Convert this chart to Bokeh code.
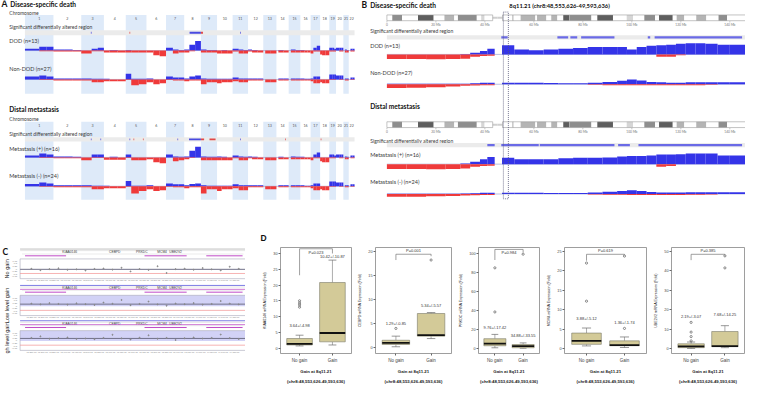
import numpy as np
from bokeh.plotting import figure
from bokeh.layouts import row, column
from bokeh.models import Range1d, Title, FixedTicker
from bokeh.core.properties import value
from bokeh.embed import file_html
from bokeh.resources import INLINE

SANS = "Lato"
ARIAL = "Liberation Sans"
GAIN_COL = "#3434e8"
LOSS_COL = "#ef3a3a"
BAND_COL = "#deeaf9"
SIG_BG = "#ebebeb"
TXT = "#3a3a3a"

# ================= Panel A data (genome-wide, 3 segments per chromosome: p, proximal q, distal q) =================
chrom_names = [str(i) for i in range(1, 23)]
chrom_len_mb = [249, 243, 198, 191, 181, 171, 159, 146, 141, 136, 135, 133, 115, 107, 102, 90, 83, 80, 59, 64, 47, 51]
centromere_mb = [125, 93, 91, 50, 48, 60, 60, 45, 49, 40, 53, 35, 17, 17, 19, 36, 24, 17, 26, 28, 13, 15]

# frequency of gain / loss (% of cases)
dod_gain = [10, 20, 20, 5, 5, 3, 0, 10, 15, 0, 3, 0, 3, 0, 0, 0, 0, 0, 15, 5, 3, 5, 30, 50, 5, 3, 3, 0, 3, 0, 10, 5, 3,
            5, 3, 0, 0, 0, 0, 0, 3, 0, 0, 5, 3, 3, 0, 0, 0, 15, 25, 0, 0, 0, 15, 15, 10, 15, 15, 15, 0, 5, 3, 0, 10, 10]
dod_loss = [0, 3, 3, 5, 5, 5, 15, 3, 3, 10, 10, 10, 10, 10, 10, 10, 25, 30, 0, 15, 10, 10, 3, 0, 10, 10, 10, 15, 15, 15, 5, 15, 15,
            5, 10, 10, 0, 15, 15, 0, 10, 10, 0, 10, 10, 10, 10, 10, 15, 5, 5, 20, 25, 25, 5, 5, 5, 0, 5, 5, 0, 10, 10, 0, 5, 5]
nondod_gain = [15, 20, 15, 5, 5, 5, 5, 3, 3, 3, 0, 0, 30, 3, 3, 5, 0, 0, 15, 10, 10, 5, 15, 20, 5, 3, 3, 3, 3, 3, 10, 5, 5,
               5, 5, 5, 0, 0, 0, 0, 5, 5, 0, 5, 5, 5, 3, 3, 5, 15, 15, 0, 0, 0, 25, 25, 25, 20, 20, 20, 0, 5, 5, 0, 10, 10]
nondod_loss = [0, 3, 3, 5, 5, 5, 5, 15, 15, 10, 10, 10, 3, 30, 25, 15, 25, 20, 3, 5, 5, 10, 5, 5, 25, 15, 15, 20, 15, 15, 10, 15, 15,
               5, 5, 5, 0, 15, 15, 0, 5, 5, 0, 5, 5, 5, 5, 5, 10, 20, 20, 15, 20, 20, 3, 3, 3, 0, 3, 3, 0, 5, 5, 0, 3, 3]
metp_gain = [10, 20, 15, 5, 5, 3, 0, 15, 15, 0, 3, 0, 15, 0, 0, 0, 0, 0, 15, 5, 3, 5, 35, 55, 5, 3, 3, 5, 3, 0, 10, 5, 3,
             5, 3, 0, 0, 0, 0, 0, 3, 0, 0, 5, 3, 3, 0, 0, 0, 15, 25, 0, 0, 0, 15, 15, 10, 15, 15, 15, 0, 5, 3, 0, 10, 10]
metp_loss = [0, 3, 3, 5, 5, 5, 15, 3, 3, 12, 12, 12, 3, 15, 15, 10, 25, 30, 0, 20, 15, 10, 3, 0, 15, 15, 15, 15, 15, 15, 5, 15, 15,
             5, 10, 10, 0, 15, 15, 0, 10, 10, 0, 10, 10, 10, 10, 10, 15, 5, 5, 20, 25, 25, 5, 5, 5, 0, 5, 5, 0, 10, 10, 0, 5, 5]
metm_gain = [12, 20, 15, 5, 5, 5, 5, 3, 3, 3, 0, 0, 28, 3, 3, 5, 0, 0, 15, 10, 10, 5, 12, 15, 5, 3, 3, 3, 3, 3, 10, 5, 5,
             5, 5, 5, 0, 0, 0, 0, 5, 5, 0, 5, 5, 5, 3, 3, 5, 15, 15, 0, 0, 0, 25, 25, 25, 20, 20, 20, 0, 5, 5, 0, 10, 10]
metm_loss = [0, 3, 3, 5, 5, 5, 5, 15, 15, 10, 10, 10, 3, 38, 25, 15, 25, 20, 3, 5, 5, 10, 5, 5, 38, 15, 15, 25, 15, 15, 10, 20, 20,
             5, 5, 5, 0, 15, 15, 0, 5, 5, 0, 5, 5, 5, 5, 5, 10, 20, 20, 15, 20, 20, 3, 3, 3, 0, 3, 3, 0, 5, 5, 0, 3, 3]

# significant differentially altered regions (chromosome, start Mb, end Mb, type)
sigA_dod_chrom = [3, 5, 8, 9, 11]
sigA_dod_start = [84, 33, 47, 0, 66]
sigA_dod_end = [90, 39, 146, 18, 72]
sigA_dod_kind = ["gain", "loss", "gain", "loss", "gain"]
sigA_met_chrom = [3, 3, 5, 5, 5, 7, 8, 9, 9, 11, 14, 18]
sigA_met_start = [84, 168, 33, 68, 150, 100, 42, 0, 75, 66, 75, 5]
sigA_met_end = [90, 174, 39, 74, 156, 106, 146, 28, 128, 72, 81, 11]
sigA_met_kind = ["gain", "gain", "gain", "loss", "loss", "gain", "gain", "loss", "loss", "gain", "loss", "loss"]

# ================= Panel B data (chromosome 8) =================
chr8_len = 146.4
region_start = 48.553626
region_end = 49.593636
ideo_start = [0, 2.2, 6.2, 12.7, 19.1, 23.5, 27.5, 29.0, 36.7, 38.5, 39.9, 43.2, 45.2, 47.2, 51.3, 51.7, 54.6, 60.6, 61.3, 65.1,
              67.1, 69.6, 72.0, 74.6, 74.7, 83.5, 85.9, 92.3, 97.9, 100.5, 105.1, 109.5, 111.1, 116.7, 118.3, 121.4, 126.3, 130.4, 135.4, 138.9]
ideo_stain = ["gneg", "gpos75", "gneg", "gpos100", "gneg", "gpos50", "gneg", "gpos75", "gneg", "gpos25",
              "gneg", "acen", "acen", "gneg", "gpos75", "gneg", "gpos50", "gneg", "gpos50", "gneg",
              "gpos50", "gneg", "gpos100", "gneg", "gpos75", "gneg", "gpos100", "gneg", "gpos25", "gneg",
              "gpos75", "gneg", "gpos100", "gneg", "gpos50", "gneg", "gpos50", "gneg", "gpos75", "gneg"]
ideo_tick_mb = [0, 20, 40, 60, 80, 100, 120, 140]
ideo_tick_lab = ["0", "20 Mb", "40 Mb", "60 Mb", "80 Mb", "100 Mb", "120 Mb", "140 Mb"]

b_seg_start = [0, 8, 16, 24, 30, 34, 38, 41, 47, 52, 58, 64, 70, 76, 82, 88, 94, 98, 102, 106, 110, 114, 118, 122, 126, 130, 135, 140]
b_seg_end = [8, 16, 24, 30, 34, 38, 41, 44, 52, 58, 64, 70, 76, 82, 88, 94, 98, 102, 106, 110, 114, 118, 122, 126, 130, 135, 140, 146.4]
dodB_gain = [0, 0, 0, 0, 2, 8, 18, 30, 47, 25, 22, 25, 30, 33, 38, 38, 38, 25, 38, 45, 48, 50, 55, 58, 58, 55, 50, 50]
dodB_loss = [24, 24, 25, 24, 22, 12, 8, 7, 0, 0, 0, 0, 0, 0, 0, 0, 0, 0, 0, 0, 12, 12, 5, 0, 0, 0, 0, 0]
nondodB_gain = [2, 2, 2, 2, 3, 5, 8, 8, 8, 8, 8, 6, 5, 5, 8, 12, 18, 25, 20, 12, 10, 8, 8, 10, 10, 10, 10, 10]
nondodB_loss = [20, 18, 15, 12, 8, 6, 5, 5, 0, 0, 0, 0, 0, 0, 3, 5, 5, 5, 5, 5, 5, 5, 5, 5, 5, 3, 0, 0]
metpB_gain = [0, 0, 0, 0, 3, 12, 25, 37, 33, 25, 25, 25, 30, 33, 33, 35, 40, 42, 42, 45, 50, 50, 52, 55, 55, 55, 45, 45]
metpB_loss = [25, 25, 26, 25, 22, 14, 10, 8, 0, 0, 0, 0, 0, 0, 0, 0, 0, 0, 0, 0, 13, 10, 0, 0, 0, 0, 0, 0]
metmB_gain = [1, 1, 1, 1, 2, 4, 6, 6, 6, 6, 6, 5, 5, 5, 8, 12, 16, 20, 16, 10, 8, 8, 8, 9, 9, 9, 9, 9]
metmB_loss = [15, 14, 12, 10, 8, 6, 5, 5, 0, 0, 0, 0, 0, 0, 3, 4, 4, 5, 5, 5, 5, 5, 5, 4, 4, 3, 0, 0]
sigB_dod_start = [46.7, 69.6, 74.9, 79.3, 106.5, 109.3]
sigB_dod_end = [49.3, 74.0, 77.7, 92.9, 107.5, 145.0]
sigB_met_start = [41.0, 46.7, 62.4, 94.4, 102.7]
sigB_met_end = [44.0, 62.0, 92.9, 99.2, 145.0]

# ================= Panel C data (8q11.21 probe-level view) =================
c_sub_labels = ["No gain", "Low level gain", "High level gain"]
c_gene_names = ["KIAA0146", "CEBPD", "PRKDC", "MCM4", "UBE2V2"]
c_gene_mb = [48.42, 48.62, 48.74, 48.83, 48.89]
c_track_start = [48.222, 48.752, 49.026]
c_track_end = [48.404, 48.939, 49.187]
c_probe_mb = [48.25, 48.29, 48.33, 48.37, 48.41, 48.45, 48.49, 48.53, 48.57, 48.61, 48.65, 48.69,
              48.73, 48.77, 48.81, 48.85, 48.89, 48.93, 48.97, 49.01, 49.05, 49.09, 49.13, 49.17]
c_lr_nogain = [0.05, -0.08, 0.02, 0.10, -0.05, 0.0, -0.12, 0.04, 0.08, -0.03, 0.15, -0.20,
               0.03, -0.06, 0.30, -0.35, 0.02, 0.06, -0.04, 0.12, 0.0, -0.10, 0.25, 0.05]
c_lr_low = [0.25, 0.18, 0.30, 0.22, 0.15, 0.28, 0.20, 0.12, 0.35, 0.24, 0.60, 0.10,
            0.22, 0.45, 0.18, 0.05, 0.26, 0.20, 0.30, 0.15, 0.22, 0.50, 0.25, 0.18]
c_lr_high = [0.30, 0.45, 0.22, 0.28, 0.35, 0.20, 0.25, 0.18, 0.30, 0.60, 0.26, 0.15,
             0.32, 0.55, 0.22, 0.30, 0.10, 0.27, 0.35, 0.24, 0.30, 0.62, 0.28, 0.20]
c_seg_mean = [0.0, 0.2, 0.25]
c_loss_threshold = -0.4
c_ytick_lr = [0.75, 0.5, 0.25, 0.0, -0.25, -0.5, -0.75]
c_xtick_mb = [48.25, 48.30, 48.35, 48.40, 48.45, 48.50, 48.55, 48.60, 48.65, 48.70, 48.75, 48.80,
              48.85, 48.90, 48.95, 49.00, 49.05, 49.10, 49.15]

# ================= Panel D data (box plots) =================
d_genes = ["KIAA0146", "CEBPD", "PRKDC", "MCM4", "UBE2V2"]
d_groups = ["No gain", "Gain"]
d_nogain_stats = [[0.7, 1.0, 1.35, 3.05, 4.1], [0.2, 0.67, 1.0, 1.55, 2.4], [1.0, 3.1, 5.4, 10.5, 15.0],
                  [0.7, 1.1, 2.0, 4.0, 5.3], [0.1, 0.5, 1.2, 2.5, 3.4]]
d_gain_stats = [[1.0, 2.0, 4.8, 20.8, 27.9], [1.9, 2.4, 2.6, 7.1, 7.3], [0.5, 1.0, 2.7, 4.4, 6.1],
                [0.3, 0.75, 0.9, 2.0, 3.0], [0.5, 1.0, 1.3, 8.8, 11.8]]
d_nogain_out = [[13.0, 13.7, 14.3, 15.0], [4.0], [38.5, 84.7], [12.2, 22.0], [4.0, 6.2, 8.5, 13.5]]
d_gain_out = [[], [18.2], [99.0], [5.2, 23.8], [41.5, 47.7]]
d_nogain_txt = ["3.64+/-4.98", "1.29+/-0.85", "9.76+/-17.42", "3.88+/-5.12", "2.19+/-3.07"]
d_gain_txt = ["10.42+/-10.87", "5.34+/-5.57", "34.88+/-33.55", "1.36+/-1.74", "7.68+/-14.25"]
d_nogain_txt_y = [7.2, 5.0, 22.4, 7.8, 16.5]
d_gain_txt_y = [29.0, 8.7, 14.0, 6.6, 17.7]
d_pvalue = ["P=0.023", "P=0.001", "P=0.984", "P=0.619", "P=0.385"]
d_bracket_left = [23.1, 18.2, 92.9, 22.6, 45.5]
d_bracket_top = [31.5, 19.4, 104.0, 24.25, 48.5]
d_bracket_right = [30.0, 19.0, 100.7, 24.0, 48.0]
d_p_below = [True, False, True, False, False]
d_ylim = [(-1.7, 31.9), (-1.2, 20.8), (-5.0, 106.0), (-1.25, 26.0), (-2.5, 52.0)]
d_yticks = [[0, 5, 10, 15, 20, 25, 30], [0, 5, 10, 15, 20], [0, 20, 40, 60, 80, 100],
            [0, 5, 10, 15, 20, 25], [0, 10, 20, 30, 40, 50]]
d_xlabel = "Gain at 8q11.21"
d_xlabel2 = "(chr8:48,553,626-49,593,636)"


def add_text(p, x, y, s, size, bold=False, color=TXT, align="left", baseline="middle", font=SANS, angle=0.0):
    p.text(x=[x], y=[y], text=[s], text_font=value(font), text_font_size=size,
           text_font_style="bold" if bold else "normal", text_color=color,
           text_align=align, text_baseline=baseline, angle=angle)


def bare_fig(w, h, xr, yr):
    p = figure(width=w, height=h, x_range=Range1d(*xr), y_range=Range1d(*yr),
               output_backend="svg", toolbar_location=None,
               x_axis_location=None, y_axis_location=None, min_border=0)
    p.grid.visible = False
    p.outline_line_color = None
    return p


SCALE = 0.2  # layout px per % of cases


def draw_track(p, left, right, gain, loss, base, x0, x1):
    g = np.array(gain, float) * SCALE
    l = np.array(loss, float) * SCALE
    p.segment(x0=[x0], y0=[base], x1=[x1], y1=[base], line_color="#9098cc", line_width=0.6)
    p.quad(left=left, right=right, bottom=base, top=base - g, fill_color=GAIN_COL, line_color=None)
    p.quad(left=left, right=right, bottom=base + l, top=base, fill_color=LOSS_COL, line_color=None)


# ================= Figure A =================
G = float(sum(chrom_len_mb))
offsets = np.concatenate([[0.0], np.cumsum(chrom_len_mb)[:-1]])
kA = 337.0 / G


def xa(px):
    return (px - 25.0) / kA


figA = bare_fig(357, 206, (xa(0), xa(365)), (214, 0))
seg_l, seg_r = [], []
for i, L in enumerate(chrom_len_mb):
    c = centromere_mb[i]
    o = offsets[i]
    mid = c + (L - c) / 2.0
    seg_l += [o, o + c, o + mid]
    seg_r += [o + c, o + mid, o + L]
seg_l = np.array(seg_l)
seg_r = np.array(seg_r)
odd_idx = [i for i in range(22) if i % 2 == 0]
centers = offsets + np.array(chrom_len_mb) / 2.0


def block_A(title, title_y, letter, band, num_y, chrom_y, sig_lab_y, sig, sig_chrom, sig_s, sig_e, sig_k, tracks):
    figA.quad(left=offsets[odd_idx], right=offsets[odd_idx] + np.array(chrom_len_mb)[odd_idx],
              top=band[0], bottom=band[1], fill_color=BAND_COL, line_color=None)
    if letter:
        add_text(figA, xa(1), title_y, letter, "8.5px", bold=True, color="#111111")
    add_text(figA, xa(10 if letter else 9), title_y, title, "6.6px", bold=True, color="#111111")
    add_text(figA, xa(9), chrom_y, "Chromosome", "5px")
    figA.text(x=centers, y=num_y, text=chrom_names, text_font=value(SANS), text_font_size="3.6px",
              text_color="#555555", text_align="center", text_baseline="middle")
    add_text(figA, xa(9), sig_lab_y, "Significant differentially altered region", "5px")
    figA.quad(left=[0], right=[G], top=[sig[0]], bottom=[sig[1]], fill_color=SIG_BG, line_color=None)
    sl = [offsets[c - 1] + s for c, s in zip(sig_chrom, sig_s)]
    sr = [offsets[c - 1] + e for c, e in zip(sig_chrom, sig_e)]
    cols = ["#4a4ae0" if k == "gain" else "#e04848" for k in sig_k]
    mid = (sig[0] + sig[1]) / 2.0
    figA.quad(left=sl, right=sr, top=mid - 1.0, bottom=mid + 1.0, fill_color=cols, line_color=None)
    for lab, lab_y, base, gain, loss in tracks:
        add_text(figA, xa(9), lab_y, lab, "5.5px")
        draw_track(figA, seg_l, seg_r, gain, loss, base, 0, G)


block_A("Disease-specific death", 4, "A", (15, 97), 18.5, 12.5, 27.5, (31, 36),
        sigA_dod_chrom, sigA_dod_start, sigA_dod_end, sigA_dod_kind,
        [("DOD (n=13)", 42, 52, dod_gain, dod_loss), ("Non-DOD (n=27)", 71, 82, nondod_gain, nondod_loss)])
block_A("Distal metastasis", 113, None, (126, 207), 129.5, 123, 139, (142, 146.5),
        sigA_met_chrom, sigA_met_start, sigA_met_end, sigA_met_kind,
        [("Metastasis (+) (n=16)", 154, 163, metp_gain, metp_loss),
         ("Metastasis (-) (n=24)", 182, 193, metm_gain, metm_loss)])

# ================= Figure B =================
kB = 366.0 / chr8_len


def xb(px):
    return (px - 395.0) / kB


figB = bare_fig(388, 206, (xb(365), xb(761)), (214, 0))
stain_col = {"gneg": "#ffffff", "gpos25": "#d6d6d6", "gpos50": "#b4b4b4", "gpos75": "#8e8e8e",
             "gpos100": "#5e5e5e", "acen": "#cfcfcf"}
ideo_end = ideo_start[1:] + [chr8_len]


def ideogram(y0, y1, tick_y):
    norm = [k for k in range(len(ideo_start)) if ideo_stain[k] != "acen"]
    figB.quad(left=[ideo_start[k] for k in norm], right=[ideo_end[k] for k in norm], top=y0, bottom=y1,
              fill_color=[stain_col[ideo_stain[k]] for k in norm], line_color=None)
    ac = [k for k in range(len(ideo_start)) if ideo_stain[k] == "acen"]
    m = (y0 + y1) / 2.0
    figB.quad(left=[ideo_start[k] for k in ac], right=[ideo_end[k] for k in ac], top=m - 1, bottom=m + 1,
              fill_color="#cfcfcf", line_color=None)
    figB.quad(left=[ideo_start[0], ideo_end[ac[-1]]],
              right=[ideo_start[ac[0]], chr8_len], top=y0, bottom=y1, fill_color=None,
              line_color="#9a9a9a", line_width=0.6)
    figB.segment(x0=ideo_tick_mb, y0=y1 + 0.5, x1=ideo_tick_mb, y1=y1 + 1.8, line_color="#888888", line_width=0.5)
    figB.text(x=ideo_tick_mb, y=tick_y, text=ideo_tick_lab, text_font=value(SANS), text_font_size="3.2px",
              text_color="#777777", text_align="center", text_baseline="middle")


bseg_l = np.array(b_seg_start)
bseg_r = np.array(b_seg_end)


def block_B(title, title_y, letter, ideo_y, tick_y, sig_lab_y, sig, sig_s, sig_e, tracks):
    if letter:
        add_text(figB, xb(369), title_y, letter, "8.5px", bold=True, color="#111111")
    add_text(figB, xb(378), title_y, title, "6.6px", bold=True, color="#111111")
    ideogram(ideo_y[0], ideo_y[1], tick_y)
    add_text(figB, xb(378), sig_lab_y, "Significant differentially altered region", "5px")
    figB.quad(left=[0], right=[chr8_len], top=[sig[0]], bottom=[sig[1]], fill_color=SIG_BG, line_color=None)
    mid = (sig[0] + sig[1]) / 2.0
    figB.quad(left=sig_s, right=sig_e, top=mid - 1.1, bottom=mid + 1.1, fill_color="#6a6ae6", line_color=None)
    for lab, lab_y, base, gain, loss in tracks:
        add_text(figB, xb(378), lab_y, lab, "5.5px")
        draw_track(figB, bseg_l, bseg_r, gain, loss, base, 0, chr8_len)


block_B("Disease-specific death", 5, "B", (15, 21), 25, 32, (36, 40.5), sigB_dod_start, sigB_dod_end,
        [("DOD (n=13)", 47, 56, dodB_gain, dodB_loss), ("Non-DOD (n=27)", 75, 87, nondodB_gain, nondodB_loss)])
block_B("Distal metastasis", 110, None, (126, 132), 136.5, 146, (148, 152.5), sigB_met_start, sigB_met_end,
        [("Metastasis (+) (n=16)", 161, 170, metpB_gain, metpB_loss),
         ("Metastasis (-) (n=24)", 189, 201, metmB_gain, metmB_loss)])
add_text(figB, xb(520), 5, "8q11.21 (chr8:48,553,626-49,593,636)", "5.8px", bold=True, color="#111111")
figB.quad(left=[region_start - 1.0], right=[region_end], top=[12], bottom=[206], fill_color=None,
          line_color="#555577", line_dash="1 1", line_width=0.8)

# ================= Figure C =================


def xc(px):
    return 48.2 + (px - 20.0) / 230.0


figC = bare_fig(245, 196, (xc(0), xc(250)), (418, 214))
add_text(figC, xc(2), 222, "C", "8.5px", bold=True, color="#111111")
box_top = [236, 306, 374]
box_bot = [274, 345, 412]
zero_y = [256, 327, 394]
PX_LR = 20.0
lr_sets = [c_lr_nogain, c_lr_low, c_lr_high]
for s in range(3):
    bt, bb, z = box_top[s], box_bot[s], zero_y[s]
    figC.segment(x0=[xc(20)], y0=[bt - 19], x1=[xc(250)], y1=[bt - 19],
                 line_color="#b0b0b0" if s == 0 else "#5b5bdc", line_width=0.8)
    figC.segment(x0=[xc(20)], y0=[bt - 16], x1=[xc(250)], y1=[bt - 16], line_color="#cccccc", line_width=0.5)
    figC.text(x=c_gene_mb, y=bt - 13.5, text=c_gene_names, text_font=value(ARIAL), text_font_size="3.3px",
              text_color="#444444", text_align="center", text_baseline="middle")
    if s > 0:
        figC.segment(x0=[xc(20)], y0=[bt - 11.5], x1=[xc(250)], y1=[bt - 11.5], line_color="#c050c8", line_width=0.8)
    figC.segment(x0=[xc(22)], y0=[bt - 9.5], x1=[xc(248)], y1=[bt - 9.5], line_color="#d8d8d8", line_width=0.5)
    figC.segment(x0=c_track_start, y0=bt - 6, x1=c_track_end, y1=bt - 6, line_color="#c04cc8", line_width=1.0)
    if s > 0:
        figC.quad(left=[xc(20)], right=[xc(250)], top=[bt], bottom=[z], fill_color="#d2d2f6", line_color=None)
    figC.quad(left=[xc(20)], right=[xc(250)], top=[bt], bottom=[bb], fill_color=None, line_color="#a8a8b8", line_width=0.6)
    figC.segment(x0=[xc(20)], y0=[z - c_seg_mean[s] * PX_LR], x1=[xc(250)], y1=[z - c_seg_mean[s] * PX_LR],
                 line_color="#707088", line_width=1.0)
    figC.segment(x0=[xc(20)], y0=[z - c_loss_threshold * PX_LR], x1=[xc(250)], y1=[z - c_loss_threshold * PX_LR],
                 line_color="#f08080", line_width=0.6)
    figC.scatter(x=c_probe_mb, y=z - np.array(lr_sets[s]) * PX_LR, size=1.0, color="#8a8a8a")
    figC.text(x=xc(17), y=z - np.array(c_ytick_lr) * PX_LR, text=[f"{v:g}" for v in c_ytick_lr],
              text_font=value(ARIAL), text_font_size="2.4px", text_color="#888888",
              text_align="right", text_baseline="middle")
    figC.text(x=c_xtick_mb, y=bb + 3, text=[f"{int(round(v * 1000)):,} kb" for v in c_xtick_mb],
              text_font=value(ARIAL), text_font_size="2.3px", text_color="#888888",
              text_align="center", text_baseline="middle")
    add_text(figC, xc(7), (bt + bb) / 2.0, c_sub_labels[s], "5.6px", color="#222222",
             align="center", font=ARIAL, angle=np.pi / 2)

# ================= Figures D =================
d_width = [110, 101, 88, 107, 94]
d_left = [35, 15, 21, 15, 12]
d_right = [4, 5, 5, 5, 1]
BOX_FILL = "#d3ca98"


def box_fig(i):
    lo, hi = d_ylim[i]
    p = figure(width=d_width[i], height=196, x_range=Range1d(0.42, 2.58), y_range=Range1d(lo, hi),
               output_backend="svg", toolbar_location=None, title=None,
               min_border_left=d_left[i], min_border_right=d_right[i], min_border_top=41, min_border_bottom=49)
    p.grid.visible = False
    p.outline_line_color = "#858585"
    p.outline_line_width = 0.8
    p.xaxis.ticker = FixedTicker(ticks=[1, 2])
    p.xaxis.major_label_overrides = {1: d_groups[0], 2: d_groups[1]}
    p.yaxis.ticker = FixedTicker(ticks=d_yticks[i])
    for ax in (p.xaxis[0], p.yaxis[0]):
        ax.axis_line_color = None
        ax.major_tick_line_color = "#666666"
        ax.major_tick_out = 2
        ax.major_tick_in = 0
        ax.minor_tick_line_color = None
        ax.major_label_text_font = ARIAL
        ax.major_label_text_color = "#444444"
        ax.axis_label_text_font = ARIAL
        ax.axis_label_text_color = "#222222"
    p.yaxis.major_label_text_font_size = "3.8px"
    p.yaxis.major_label_standoff = 1
    p.xaxis.major_label_text_font_size = "4.5px"
    p.xaxis.major_label_standoff = 2
    p.yaxis.axis_label = f"{d_genes[i]} mRNA Expression (Fold)"
    p.yaxis.axis_label_text_font_size = "3.6px"
    p.yaxis.axis_label_text_font_style = "normal"
    p.yaxis.axis_label_standoff = 3
    p.xaxis.axis_label = d_xlabel
    p.xaxis.axis_label_text_font_size = "4.3px"
    p.xaxis.axis_label_text_font_style = "bold"
    p.xaxis.axis_label_standoff = 3
    p.add_layout(Title(text=d_xlabel2, align="center", text_font=ARIAL, text_font_size="4.3px",
                       text_font_style="bold", text_color="#222222", standoff=0), "below")
    if i == 0:
        p.add_layout(Title(text="D", align="left", offset=-20, text_font=ARIAL, text_font_size="8.5px",
                           text_font_style="bold", text_color="#111111"), "above")
    for xpos, st, outs in ((1, d_nogain_stats[i], d_nogain_out[i]), (2, d_gain_stats[i], d_gain_out[i])):
        wl, q1, med, q3, wh = st
        p.segment(x0=[xpos, xpos], y0=[q3, q1], x1=[xpos, xpos], y1=[wh, wl], line_color="#8a8a8a", line_width=0.7)
        p.segment(x0=[xpos - 0.12, xpos - 0.12], y0=[wh, wl], x1=[xpos + 0.12, xpos + 0.12], y1=[wh, wl],
                  line_color="#6a6a6a", line_width=0.7)
        p.vbar(x=[xpos], top=[q3], bottom=[q1], width=0.78, fill_color=BOX_FILL, line_color="#7a7a6a", line_width=0.6)
        p.segment(x0=[xpos - 0.39], y0=[med], x1=[xpos + 0.39], y1=[med], line_color="#111111", line_width=1.8)
        if outs:
            p.scatter(x=[xpos] * len(outs), y=outs, size=2.2, marker="circle", fill_color=None,
                      line_color="#444444", line_width=0.6)
    p.text(x=[1, 2], y=[d_nogain_txt_y[i], d_gain_txt_y[i]], text=[d_nogain_txt[i], d_gain_txt[i]],
           text_font=value(ARIAL), text_font_size="4px", text_color="#333333",
           text_align="center", text_baseline="middle")
    p.segment(x0=[1, 1, 2], y0=[d_bracket_left[i], d_bracket_top[i], d_bracket_top[i]],
              x1=[1, 2, 2], y1=[d_bracket_top[i], d_bracket_top[i], d_bracket_right[i]],
              line_color="#777777", line_width=0.7)
    if d_p_below[i]:
        p.text(x=[1.5], y=[d_bracket_top[i]], text=[d_pvalue[i]], text_font=value(ARIAL), text_font_size="4px",
               text_color="#333333", text_align="center", text_baseline="top", y_offset=1)
    else:
        p.text(x=[1.5], y=[d_bracket_top[i]], text=[d_pvalue[i]], text_font=value(ARIAL), text_font_size="4px",
               text_color="#333333", text_align="center", text_baseline="bottom", y_offset=-1)
    return p


d_figs = [box_fig(i) for i in range(5)]

layout = column(row(figA, figB), row(figC, *d_figs))
open("out.html", "w").write(file_html(layout, INLINE))
